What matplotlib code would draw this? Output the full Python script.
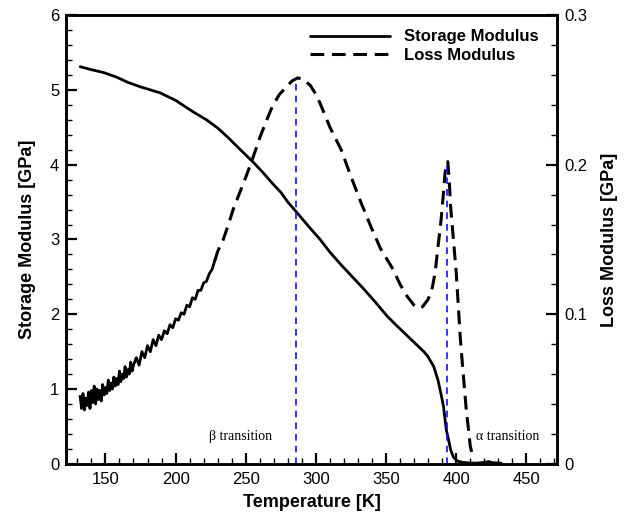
import matplotlib
matplotlib.use("Agg")
import matplotlib.pyplot as plt
from matplotlib.ticker import MultipleLocator, FixedLocator

# ---------------- data ----------------
storage_T = [132, 140, 149, 158, 166, 175, 189, 200, 213, 222, 230, 237, 244, 250,
             255, 262, 269, 275, 280, 286, 295, 303, 310, 318, 326, 334, 342, 351,
             358, 363, 368, 373, 377, 380, 384, 387, 389, 391, 392, 393, 395, 396,
             398, 400, 402, 405, 410, 415, 420, 423, 426, 432]
storage_E = [5.31, 5.27, 5.23, 5.17, 5.10, 5.04, 4.96, 4.86, 4.70, 4.60, 4.49, 4.37,
             4.24, 4.13, 4.04, 3.90, 3.75, 3.63, 3.50, 3.37, 3.17, 3.00, 2.83, 2.66,
             2.50, 2.34, 2.17, 1.97, 1.84, 1.75, 1.66, 1.57, 1.50, 1.43, 1.30, 1.12,
             0.95, 0.76, 0.60, 0.45, 0.28, 0.19, 0.09, 0.05, 0.03, 0.02, 0.01, 0.01,
             0.02, 0.03, 0.015, 0.01]

# noisy low-temperature part of the loss modulus
loss_noisy_T = [132, 133, 134, 135, 136, 137, 138, 139, 140, 141, 142, 143, 144, 145,
                146, 147, 148, 149, 150, 151, 152, 153, 154, 155, 156, 157, 158, 159,
                160, 161, 162, 163, 164, 165, 166, 167, 168, 169, 170, 172, 174, 176,
                178, 180, 182, 184, 186, 188, 190, 192, 194, 196, 198, 200, 202, 204,
                206, 208, 210, 212, 214, 216, 218, 220, 222, 224, 226, 228]
loss_noisy_E = [0.045, 0.037, 0.047, 0.036, 0.044, 0.039, 0.048, 0.037, 0.049, 0.041,
                0.052, 0.040, 0.050, 0.043, 0.049, 0.042, 0.053, 0.046, 0.051, 0.047,
                0.056, 0.049, 0.054, 0.050, 0.058, 0.052, 0.057, 0.053, 0.062, 0.055,
                0.060, 0.057, 0.065, 0.058, 0.063, 0.060, 0.068, 0.062, 0.066, 0.071,
                0.066, 0.075, 0.071, 0.079, 0.075, 0.083, 0.079, 0.086, 0.083, 0.089,
                0.087, 0.093, 0.091, 0.097, 0.096, 0.101, 0.100, 0.106, 0.105, 0.111,
                0.110, 0.116, 0.116, 0.121, 0.122, 0.127, 0.130, 0.136]
# smooth part of the loss modulus
loss_T = [228, 230, 234, 238, 241, 246, 251, 256, 260, 265, 269, 274, 279, 283, 287,
          291, 296, 300, 303, 310, 318, 325, 332, 339, 346, 355, 360, 365, 370, 373,
          376, 380, 383, 385, 387, 389, 391, 392, 393, 394, 395, 396, 398, 400, 403,
          405, 407, 410, 412]
loss_E = [0.136, 0.142, 0.150, 0.161, 0.170, 0.182, 0.194, 0.207, 0.218, 0.230, 0.239,
          0.247, 0.252, 0.256, 0.258, 0.257, 0.253, 0.247, 0.241, 0.225, 0.210, 0.192,
          0.175, 0.159, 0.144, 0.130, 0.120, 0.112, 0.106, 0.104, 0.105, 0.110, 0.118,
          0.128, 0.145, 0.161, 0.182, 0.194, 0.200, 0.202, 0.190, 0.172, 0.150, 0.128,
          0.083, 0.060, 0.038, 0.012, 0.004]

transition_T = [286, 393.6]
transition_top = [0.258, 0.199]
transition_labels = ["\u03b2 transition", "\u03b1 transition"]
transition_label_pos = [(223.5, 0.36), (414, 0.37)]

x_ticks = [150, 200, 250, 300, 350, 400, 450]
left_ticks = [0, 1, 2, 3, 4, 5, 6]
right_ticks = [0, 0.1, 0.2, 0.3]
right_ticklabels = ["0", "0.1", "0.2", "0.3"]

# ---------------- figure ----------------
plt.rcParams['font.family'] = ['Liberation Sans', 'DejaVu Sans']
fig = plt.figure(figsize=(6.24, 5.2), dpi=100)
ax = fig.add_axes([0.106, 0.108, 0.787, 0.863])
ax2 = ax.twinx()

ax.set_xlim(122, 472)
ax.set_ylim(0, 6)
ax2.set_ylim(0, 0.3)

l1, = ax.plot(storage_T, storage_E, color='black', lw=2.0, solid_capstyle='round',
              label='Storage Modulus')
ax2.plot(loss_noisy_T, loss_noisy_E, color='black', lw=2.0, linestyle='-')
l2, = ax2.plot(loss_T, loss_E, color='black', lw=2.2, linestyle=(0, (4.5, 2.5)),
               label='Loss Modulus')

for t, top in zip(transition_T, transition_top):
    ax2.plot([t, t], [0, top], color='#1010ff', lw=1.2, linestyle=(0, (4, 3)))

for lab, (tx, ty) in zip(transition_labels, transition_label_pos):
    ax.text(tx, ty, lab, family=['Liberation Serif', 'DejaVu Serif'], fontsize=10,
            ha='left', va='center')

# ticks
ax.xaxis.set_major_locator(FixedLocator(x_ticks))
ax.xaxis.set_minor_locator(MultipleLocator(10))
ax.yaxis.set_major_locator(FixedLocator(left_ticks))
ax.yaxis.set_minor_locator(MultipleLocator(0.2))
ax2.yaxis.set_major_locator(FixedLocator(right_ticks))
ax2.set_yticklabels(right_ticklabels)
ax2.yaxis.set_minor_locator(MultipleLocator(0.02))

for a in (ax, ax2):
    a.tick_params(which='major', direction='in', length=8, width=1.6, labelsize=12)
    a.tick_params(which='minor', direction='in', length=4, width=1.0)
    for s in a.spines.values():
        s.set_linewidth(1.8)
ax.tick_params(axis='x', which='both', top=False, pad=6)
ax.tick_params(axis='y', which='both', right=False, pad=5)
ax2.tick_params(axis='y', which='both', left=False, pad=5)

ax.set_xlabel('Temperature [K]', fontsize=13, fontweight='bold', labelpad=5)
ax.set_ylabel('Storage Modulus [GPa]', fontsize=13, fontweight='bold', labelpad=10)
ax2.set_ylabel('Loss Modulus [GPa]', fontsize=13, fontweight='bold', labelpad=10)

leg = ax.legend(handles=[l1, l2], loc='upper left', bbox_to_anchor=(0.497, 0.968),
                frameon=False, handlelength=4.8, handletextpad=0.85,
                labelspacing=0.2, borderpad=0, borderaxespad=0,
                prop={'weight': 'bold', 'size': 12})

fig.savefig('out.png', dpi=100)
